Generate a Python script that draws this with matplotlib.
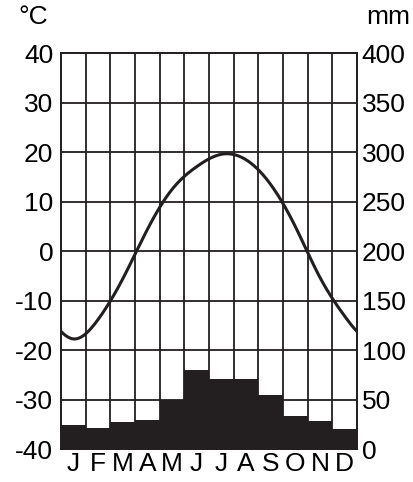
import numpy as np
import matplotlib
matplotlib.use("Agg")
import matplotlib.pyplot as plt

months = ["J", "F", "M", "A", "M", "J", "J", "A", "S", "O", "N", "D"]
temperature_c = [-17.7, -13.8, -5.6, 4.4, 12.5, 17.1, 19.6, 18.5, 13.5, 5.0, -5.3, -13.1]
precip_mm = [25, 22, 28, 30, 50, 80, 71, 71, 55, 34, 29, 21]
temp_ticks = [-40, -30, -20, -10, 0, 10, 20, 30, 40]
precip_ticks = [0, 50, 100, 150, 200, 250, 300, 350, 400]

INK = "#231f20"
plt.rcParams['font.family'] = ['Liberation Sans', 'DejaVu Sans']

def periodic_spline(xk, yk, period, xs):
    n = len(xk)
    h = period / n
    A = np.zeros((n, n))
    b = np.zeros(n)
    yk = np.asarray(yk, float)
    for i in range(n):
        A[i, (i - 1) % n] = 1
        A[i, i] = 4
        A[i, (i + 1) % n] = 1
        b[i] = 6 * (yk[(i - 1) % n] - 2 * yk[i] + yk[(i + 1) % n]) / h**2
    M = np.linalg.solve(A, b)
    out = np.empty_like(xs)
    for j, x in enumerate(xs):
        t = (x - xk[0]) % period
        i = int(t // h) % n
        i1 = (i + 1) % n
        a = t - i * h
        bb = h - a
        out[j] = (M[i] * bb**3 + M[i1] * a**3) / (6 * h) \
            + (yk[i] / h - M[i] * h / 6) * bb + (yk[i1] / h - M[i1] * h / 6) * a
    return out

fig = plt.figure(figsize=(4.14, 4.82), dpi=100)
ax2 = fig.add_axes([61/414, 1 - 449.3/482, 296/414, 396/482])
ax = ax2.twinx()
ax.set_zorder(2)
ax.patch.set_visible(False)

x = np.arange(len(months))
ax2.bar(x + 0.5, precip_mm, width=1.0, color=INK, edgecolor=INK, linewidth=0, zorder=1)
ax2.set_xlim(0, 12)
ax2.set_ylim(0, 400)
ax.set_ylim(-40, 40)

for xv in range(1, 12):
    ax.axvline(xv, color=INK, lw=1.3, zorder=0)
for tv in temp_ticks[1:-1]:
    ax.axhline(tv, color=INK, lw=1.3, zorder=0)

xs = np.linspace(0, 12, 600)
ys = periodic_spline(x + 0.5, temperature_c, 12, xs)
ax.plot(xs, ys, color=INK, lw=2.2, zorder=3, solid_capstyle='butt')

ax.yaxis.set_ticks_position('left')
ax.yaxis.set_label_position('left')
ax.set_yticks(temp_ticks)
ax.set_yticklabels([str(t) for t in temp_ticks], fontsize=19)
ax.tick_params(axis='y', length=0, pad=5.5, colors='black')

ax2.yaxis.set_ticks_position('right')
ax2.set_yticks(precip_ticks)
ax2.set_yticklabels([str(p) for p in precip_ticks], fontsize=19)
ax2.tick_params(axis='y', length=0, pad=3.5, colors='black')

ax2.set_xticks(x + 0.5)
ax2.set_xticklabels(months, fontsize=19)
ax2.tick_params(axis='x', length=0, pad=2, colors='black')

for a in (ax, ax2):
    for s in a.spines.values():
        s.set_color(INK)
        s.set_linewidth(1.3)

fig.text(18/414, 1 - 17/482, "°C", fontsize=19, va='center', ha='left')
fig.text(410/414, 1 - 17/482, "mm", fontsize=19, va='center', ha='right')

fig.savefig("out.png", dpi=100)
